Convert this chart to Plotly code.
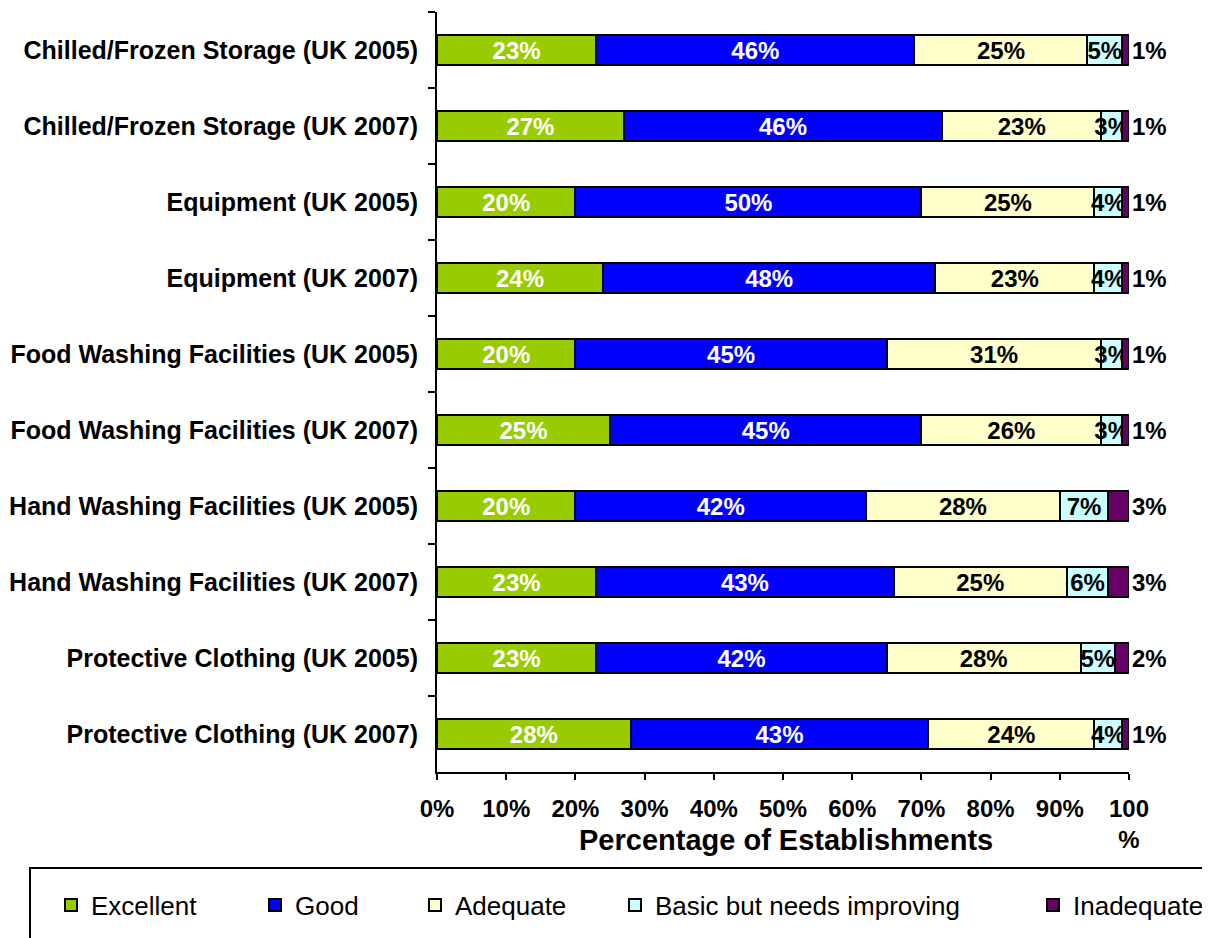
import plotly.graph_objects as go

categories = [
    "Chilled/Frozen Storage (UK 2005)",
    "Chilled/Frozen Storage (UK 2007)",
    "Equipment (UK 2005)",
    "Equipment (UK 2007)",
    "Food Washing Facilities (UK 2005)",
    "Food Washing Facilities (UK 2007)",
    "Hand Washing Facilities (UK 2005)",
    "Hand Washing Facilities (UK 2007)",
    "Protective Clothing (UK 2005)",
    "Protective Clothing (UK 2007)",
]
excellent = [23, 27, 20, 24, 20, 25, 20, 23, 23, 28]
good = [46, 46, 50, 48, 45, 45, 42, 43, 42, 43]
adequate = [25, 23, 25, 23, 31, 26, 28, 25, 28, 24]
basic = [5, 3, 4, 4, 3, 3, 7, 6, 5, 4]
inadequate = [1, 1, 1, 1, 1, 1, 3, 3, 2, 1]

x_ticks = [0, 10, 20, 30, 40, 50, 60, 70, 80, 90, 100]
x_tick_labels = ["0%", "10%", "20%", "30%", "40%", "50%", "60%", "70%", "80%", "90%", "100<br>%"]
x_title = "Percentage of Establishments"

series_names = ["Excellent", "Good", "Adequate", "Basic but needs improving", "Inadequate"]
series_values = [excellent, good, adequate, basic, inadequate]
series_colors = ["#99CC00", "#0000FF", "#FFFFCC", "#CCFFFF", "#660066"]
text_colors = ["white", "white", "black", "black", "black"]
text_positions = ["inside", "inside", "inside", "inside", "outside"]

FONT = "Arial, Liberation Sans, sans-serif"

# plot area geometry (svg px)
L, T, PW, PH = 429, 4, 692, 760
W, H = 1210, 938


def px_to_paper_x(px):
    return (px - L) / PW


def px_to_paper_y(py):
    return (T + PH - py) / PH


# legend item origins (svg px)
legend_origins = [43, 247, 407, 607, 1025]
legend_y = px_to_paper_y(897)

fig = go.Figure()
layout_legends = {}
for i, name in enumerate(series_names):
    vals = series_values[i]
    lg = "legend" if i == 0 else f"legend{i + 1}"
    fig.add_trace(go.Bar(
        name=name,
        y=categories,
        x=vals,
        orientation="h",
        marker=dict(color=series_colors[i], line=dict(color="black", width=2)),
        text=[f"{v}%" for v in vals],
        textposition=text_positions[i],
        insidetextanchor="middle",
        constraintext="none",
        textangle=0,
        textfont=dict(family=FONT, size=24, color=text_colors[i], weight="bold"),
        cliponaxis=False,
        width=0.4,
        legend=lg,
    ))
    layout_legends[lg] = dict(
        orientation="h",
        x=px_to_paper_x(legend_origins[i]),
        xanchor="left",
        y=legend_y,
        yanchor="middle",
        borderwidth=0,
        bgcolor="rgba(0,0,0,0)",
        font=dict(family=FONT, size=26, color="black"),
    )

fig.update_layout(
    barmode="stack",
    width=W,
    height=H,
    margin=dict(l=L, r=W - L - PW, t=T, b=H - T - PH, autoexpand=False),
    paper_bgcolor="white",
    plot_bgcolor="white",
    font=dict(family=FONT, color="black"),
    showlegend=True,
    xaxis=dict(
        range=[0, 100],
        tickvals=x_ticks,
        ticktext=x_tick_labels,
        ticks="outside",
        ticklen=6,
        tickwidth=2,
        tickcolor="black",
        showline=True,
        linecolor="black",
        linewidth=2,
        showgrid=False,
        zeroline=False,
        ticklabelstandoff=8,
        tickfont=dict(family=FONT, size=24, color="black", weight="bold"),
    ),
    yaxis=dict(
        categoryorder="array",
        categoryarray=categories,
        autorange="reversed",
        tickson="boundaries",
        ticks="outside",
        ticklen=7,
        tickwidth=2,
        tickcolor="black",
        showline=True,
        linecolor="black",
        linewidth=2,
        showgrid=False,
        zeroline=False,
        ticklabelstandoff=12,
        tickfont=dict(family=FONT, size=25, color="black", weight="bold"),
    ),
    annotations=[dict(
        text=x_title,
        xref="paper", yref="paper",
        x=px_to_paper_x(778), y=px_to_paper_y(832),
        xanchor="center", yanchor="middle",
        showarrow=False,
        font=dict(family=FONT, size=29, color="black", weight="bold"),
    )],
    shapes=[dict(
        type="rect",
        xref="paper", yref="paper",
        x0=px_to_paper_x(22), x1=px_to_paper_x(1230),
        y0=px_to_paper_y(860), y1=px_to_paper_y(960),
        line=dict(color="black", width=2),
        fillcolor="rgba(0,0,0,0)",
        layer="below",
    )],
    **layout_legends,
)

fig.write_html("out.html")
